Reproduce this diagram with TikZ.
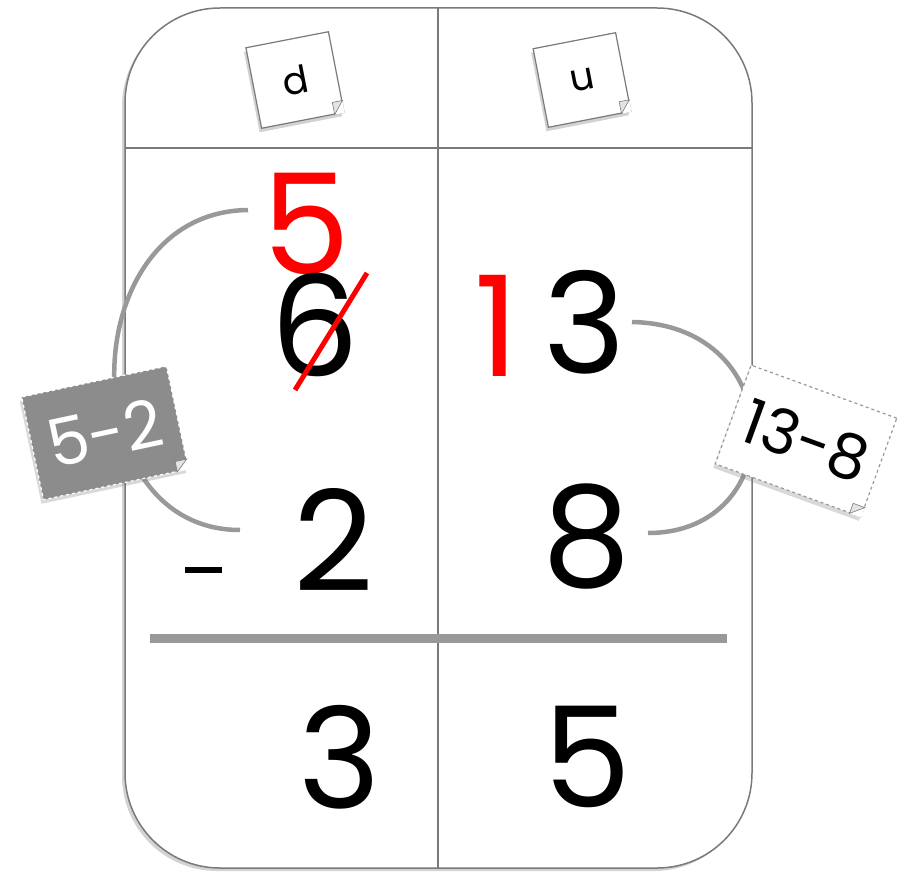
\documentclass[tikz,border=0pt]{standalone}
\usepackage{fontspec}
\setmainfont{Poppins}
\usetikzlibrary{calc,shadows}
\definecolor{boxgray}{HTML}{7A7A7A}
\definecolor{arcgray}{HTML}{999999}
\definecolor{notegray}{HTML}{8C8C8C}
\definecolor{foldgray}{HTML}{E4E4E4}
\begin{document}
\begin{tikzpicture}[x=1pt,y=-1pt,
  digit/.style={inner sep=0pt, font=\fontsize{140}{140}\selectfont},
  blackd/.style={digit,text=black},
  redd/.style={digit,text=red},
  arcline/.style={draw=arcgray, line width=4.5pt},
  grid/.style={draw=boxgray, line width=1.5pt},
  stickynote/.style={draw=boxgray, line width=1.2pt, fill=white, inner sep=0pt,
     drop shadow={opacity=0.35, shadow xshift=-2pt, shadow yshift=-4pt}},
  fold/.style={fill=foldgray, draw=boxgray, line width=0.6pt}]
\useasboundingbox (0,0) rectangle (908,875);
% frame
\draw[grid, fill=white, rounded corners=95pt,
  drop shadow={opacity=0.35, shadow xshift=-3pt, shadow yshift=-3pt}] (125,8) rectangle (752,868);
\draw[grid] (438,8) -- (438,868);
\draw[grid] (125,148) -- (752,148);
\coordinate (ruleL) at (150,638);
\coordinate (ruleR) at (727,638);
\draw[draw=arcgray, line width=9pt] (ruleL) -- (ruleR);
% arcs
\coordinate (la1) at (248,210);
\coordinate (la2) at (240,530);
\draw[arcline] (la1) .. controls (72,212) and (70,530) .. (la2);
\coordinate (ra1) at (632,322);
\coordinate (ra2) at (648,533);
\draw[arcline] (ra1) .. controls (790,325) and (790,533) .. (ra2);
% digits
\node[redd] (r5) at (306,224) {5};
\node[blackd] (d6) at (315,325) {6};
\coordinate (s1) at (295,390);
\coordinate (s2) at (367,273);
\draw[red, line width=5pt] (s1) -- (s2);
\node[redd] (r1) at (497,326) {1};
\node[blackd] (d3) at (585,322) {3};
\coordinate (m1) at (185,570);
\coordinate (m2) at (222,570);
\draw[black, line width=6pt] (m1) -- (m2);
\node[blackd] (d2) at (334,540) {2};
\node[blackd] (d8) at (587,537) {8};
\node[blackd] (e3) at (340,757) {3};
\node[blackd] (e5) at (587,757) {5};
% column notes
\node[stickynote, rotate=11, minimum width=84pt, minimum height=82pt,
  font=\fontsize{38}{38}\selectfont] (nd) at (295,80) {d};
\node[stickynote, rotate=11, minimum width=84pt, minimum height=80pt,
  font=\fontsize{38}{38}\selectfont] (nu) at (582,80) {u};
% 5-2 note
\node[rotate=12, fill=notegray, draw=white, dashed, line width=1.2pt, inner sep=0pt,
  minimum width=148pt, minimum height=105pt, text=white,
  drop shadow={opacity=0.3, shadow xshift=-2pt, shadow yshift=-4pt},
  font=\fontsize{66}{66}\selectfont] (n52) at (105,433) {5-2};
% 13-8 note
\node[rotate=-20, fill=white, draw=arcgray, dashed, line width=1.2pt, inner sep=0pt,
  minimum width=155pt, minimum height=105pt, text=black,
  drop shadow={opacity=0.3, shadow xshift=-2pt, shadow yshift=-4pt},
  font=\fontsize{62}{62}\selectfont] (n138) at (806,441) {13-8};
% folded corners
\foreach \n/\f in {nd/0.15, nu/0.15, n52/0.1, n138/0.1}{
  \coordinate (\n A) at ($(\n.south east)!\f!(\n.north east)$);
  \coordinate (\n B) at ($(\n.south east)!{\f*0.8}!(\n.south west)$);
  \fill[white] (\n A) -- (\n.south east) -- (\n B) -- cycle;
  \draw[fold] (\n A) -- (\n B) -- ($(\n A)+(\n B)-(\n.south east)$) -- cycle;
}
\end{tikzpicture}
\end{document}
